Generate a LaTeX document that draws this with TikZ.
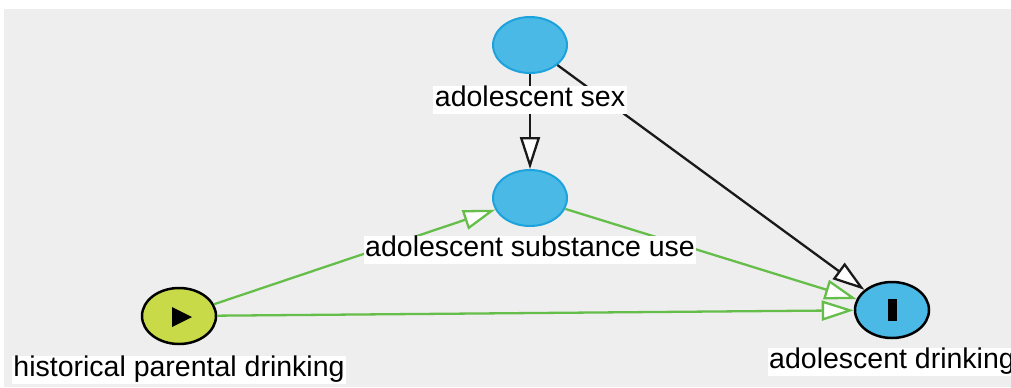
\documentclass[tikz,border=0pt]{standalone}
\usepackage{fontspec}
\setmainfont{Liberation Sans}
\usetikzlibrary{shapes.geometric,arrows.meta}
\definecolor{canvas}{HTML}{EEEEEE}
\definecolor{nodeblue}{HTML}{4AB9E5}
\definecolor{rimblue}{HTML}{1CA2DC}
\definecolor{nodelime}{HTML}{C8DA48}
\definecolor{pathgreen}{HTML}{66BE4A}
\tikzset{
  var/.style={ellipse, minimum width=74bp, minimum height=56bp, inner sep=0pt, line width=2pt},
  latent/.style={var, fill=nodeblue, draw=rimblue},
  exposure/.style={var, fill=nodelime, draw=black, line width=2.5pt},
  outcome/.style={var, fill=nodeblue, draw=black, line width=2.5pt},
  tag/.style={fill=white, inner xsep=1.5bp, inner ysep=0pt, text height=20.5bp, text depth=7bp,
    font=\fontsize{28.5bp}{33bp}\selectfont},
  head/.style={-{Triangle[length=32bp, width=20bp, fill=white]}, line width=2.3pt},
  causal/.style={head, draw=pathgreen},
  plain/.style={head, draw=black!90}
}
\begin{document}
\begin{tikzpicture}[x=1bp, y=-1bp]
  \useasboundingbox (0,0) rectangle (1011,387);
  \fill[canvas] (4,9) rectangle (1011,387);

  % variables
  \node[latent]   (sex)   at (530,45)  {};
  \node[latent]   (subst) at (530,198) {};
  \node[exposure] (par)   at (179,316) {};
  \node[outcome]  (drink) at (892,310) {};

  % exposure and outcome markers
  \fill[black] (172,307) -- (172,327) -- (192,317) -- cycle;
  \fill[black] (888,299) rectangle (897,321);

  % arrows
  \draw[plain]  (sex)   -- (subst);
  \draw[plain]  (sex)   -- (drink);
  \draw[causal] (par)   -- (subst);
  \draw[causal] (subst) -- (drink);
  \draw[causal] (par)   -- (drink);

  % labels
  \node[tag] (lsex)   at (530,100) {adolescent sex};
  \node[tag] (lsubst) at (530,250) {adolescent substance use};
  \node[tag] (lpar)   at (179,370) {historical parental drinking};
  \node[tag] (ldrink) at (892,362) {adolescent drinking};
\end{tikzpicture}
\end{document}
